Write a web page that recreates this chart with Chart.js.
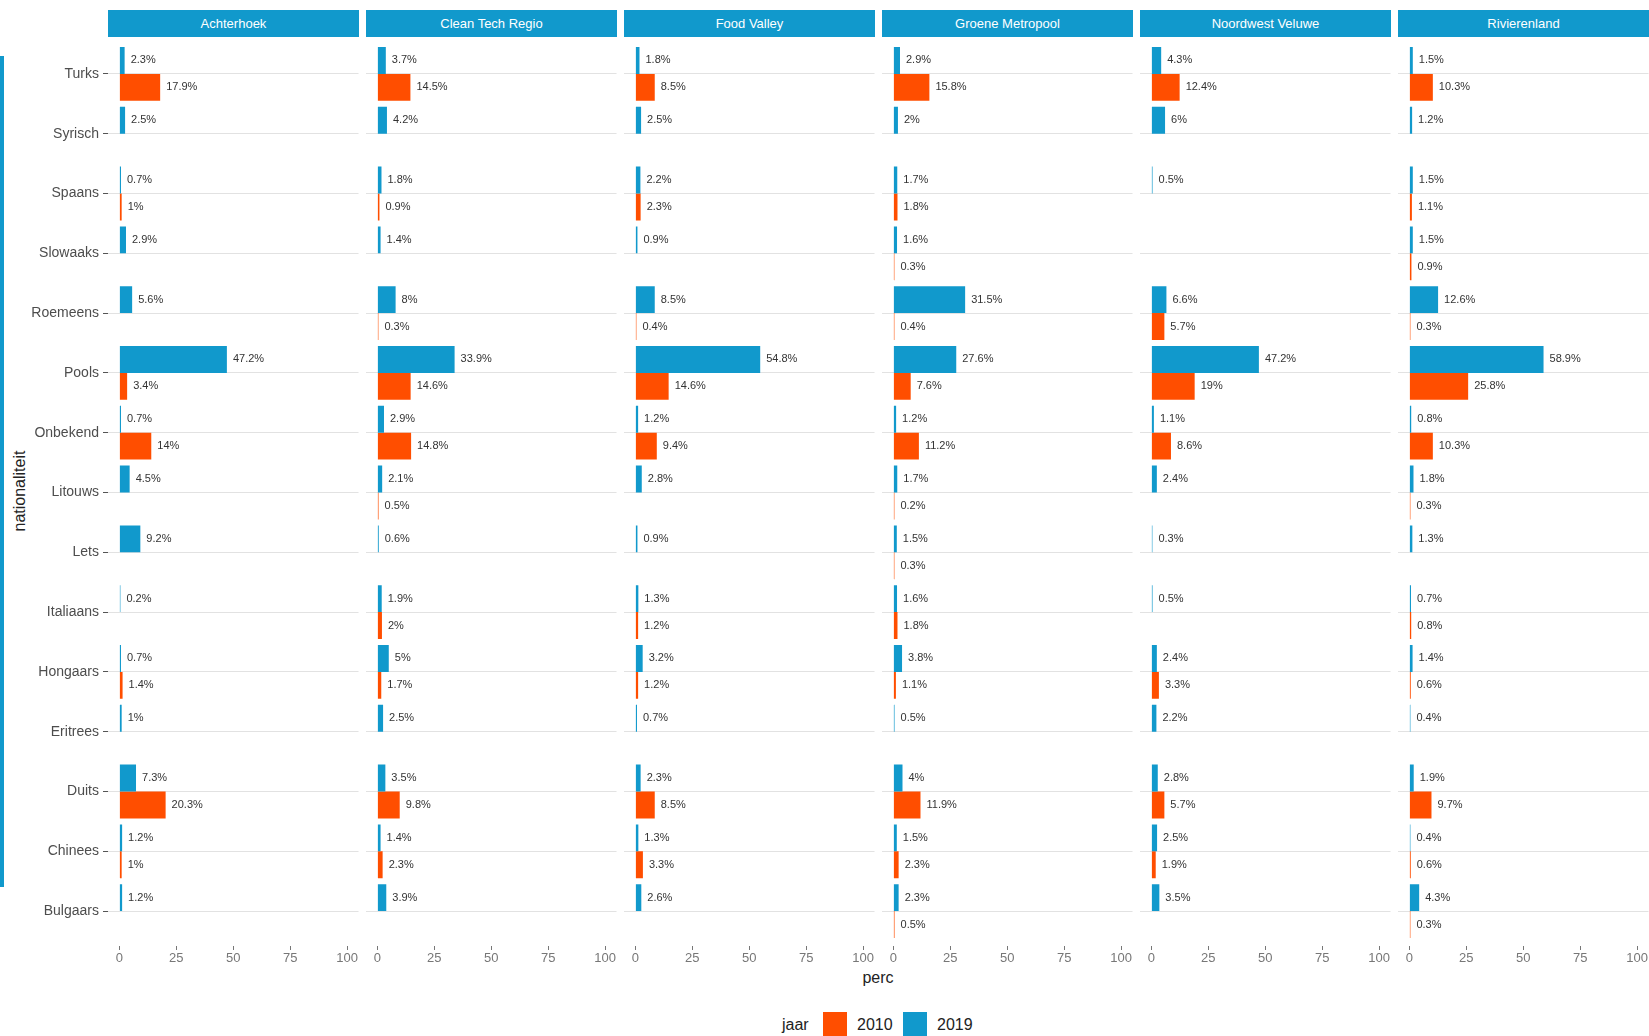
<!DOCTYPE html>
<html>
<head>
<meta charset="utf-8">
<script src="https://cdn.jsdelivr.net/npm/chart.js@4.4.1/dist/chart.umd.min.js"></script>
<style>
    body { margin: 0; width: 1649px; height: 1036px; overflow: hidden; background: #fff; position: relative;
           font-family: "Liberation Sans", Arial, sans-serif; }
    .strip { position: absolute; top: 10px; height: 27px; background: #1199cc; color: #fff;
             font-size: 13px; line-height: 27px; text-align: center; }
    canvas { position: absolute; top: 0; }
    .stripe { position: absolute; left: 0; top: 56px; width: 4px; height: 831px; background: #1199cc; }
    .ytitle { position: absolute; left: 20px; top: 491px; transform: translate(-50%, -50%) rotate(-90deg);
              font-size: 16px; color: #222; white-space: nowrap; }
    .xtitle { position: absolute; left: 878px; top: 978px; transform: translate(-50%, -50%);
              font-size: 16px; color: #222; }
    .leg { position: absolute; top: 1025px; transform: translateY(-50%); font-size: 16px; color: #222; }
    .key { position: absolute; top: 1012px; width: 24px; height: 24px; }
</style>
</head>
<body>
<div class="stripe"></div>
<div class="ytitle">nationaliteit</div>
<div class="xtitle">perc</div>
<div class="leg" style="left:782px">jaar</div>
<div class="key" style="left:823px;background:#ff4e00"></div>
<div class="leg" style="left:857px">2010</div>
<div class="key" style="left:903px;background:#1199cc"></div>
<div class="leg" style="left:937px">2019</div>

<script>
// ------------------------------------------------------------------ data
const categories = ['Turks', 'Syrisch', 'Spaans', 'Slowaaks', 'Roemeens', 'Pools', 'Onbekend', 'Litouws',
    'Lets', 'Italiaans', 'Hongaars', 'Eritrees', 'Duits', 'Chinees', 'Bulgaars'];
const regions = ['Achterhoek', 'Clean Tech Regio', 'Food Valley', 'Groene Metropool', 'Noordwest Veluwe', 'Rivierenland'];
const years = ['2019', '2010'];
const xTicks = [0, 25, 50, 75, 100];

const achterhoek2019 = [2.3, 2.5, 0.7, 2.9, 5.6, 47.2, 0.7, 4.5, 9.2, 0.2, 0.7, 1, 7.3, 1.2, 1.2];
const achterhoek2010 = [17.9, null, 1, null, null, 3.4, 14, null, null, null, 1.4, null, 20.3, 1, null];
const cleanTech2019 = [3.7, 4.2, 1.8, 1.4, 8, 33.9, 2.9, 2.1, 0.6, 1.9, 5, 2.5, 3.5, 1.4, 3.9];
const cleanTech2010 = [14.5, null, 0.9, null, 0.3, 14.6, 14.8, 0.5, null, 2, 1.7, null, 9.8, 2.3, null];
const foodValley2019 = [1.8, 2.5, 2.2, 0.9, 8.5, 54.8, 1.2, 2.8, 0.9, 1.3, 3.2, 0.7, 2.3, 1.3, 2.6];
const foodValley2010 = [8.5, null, 2.3, null, 0.4, 14.6, 9.4, null, null, 1.2, 1.2, null, 8.5, 3.3, null];
const groeneMetropool2019 = [2.9, 2, 1.7, 1.6, 31.5, 27.6, 1.2, 1.7, 1.5, 1.6, 3.8, 0.5, 4, 1.5, 2.3];
const groeneMetropool2010 = [15.8, null, 1.8, 0.3, 0.4, 7.6, 11.2, 0.2, 0.3, 1.8, 1.1, null, 11.9, 2.3, 0.5];
const noordwestVeluwe2019 = [4.3, 6, 0.5, null, 6.6, 47.2, 1.1, 2.4, 0.3, 0.5, 2.4, 2.2, 2.8, 2.5, 3.5];
const noordwestVeluwe2010 = [12.4, null, null, null, 5.7, 19, 8.6, null, null, null, 3.3, null, 5.7, 1.9, null];
const rivierenland2019 = [1.5, 1.2, 1.5, 1.5, 12.6, 58.9, 0.8, 1.8, 1.3, 0.7, 1.4, 0.4, 1.9, 0.4, 4.3];
const rivierenland2010 = [10.3, null, 1.1, 0.9, 0.3, 25.8, 10.3, 0.3, null, 0.8, 0.6, null, 9.7, 0.6, 0.3];

const series2019 = [achterhoek2019, cleanTech2019, foodValley2019, groeneMetropool2019, noordwestVeluwe2019, rivierenland2019];
const series2010 = [achterhoek2010, cleanTech2010, foodValley2010, groeneMetropool2010, noordwestVeluwe2010, rivierenland2010];

// ------------------------------------------------------------------ layout
const BLUE = '#1199cc';
const ORANGE = '#ff4e00';
const panelLefts = [108, 366, 624, 882, 1140, 1398];
const panelWidth = 251;
const yAxisWidth = 108;
const canvasHeight = 1000;

// value labels right of each bar end
const barLabels = {
    id: 'barLabels',
    afterDatasetsDraw(chart) {
        const ctx = chart.ctx;
        ctx.save();
        ctx.font = '11px "Liberation Sans", Arial, sans-serif';
        ctx.fillStyle = '#333';
        ctx.textBaseline = 'middle';
        chart.data.datasets.forEach((ds, i) => {
            chart.getDatasetMeta(i).data.forEach((bar, j) => {
                const v = ds.data[j];
                if (v === null || v === undefined) return;
                ctx.fillText(v + '%', bar.x + 6, bar.y);
            });
        });
        ctx.restore();
    }
};

regions.forEach((name, p) => {
    const first = p === 0;

    const strip = document.createElement('div');
    strip.className = 'strip';
    strip.style.left = panelLefts[p] + 'px';
    strip.style.width = panelWidth + 'px';
    strip.textContent = name;
    document.body.appendChild(strip);

    const cv = document.createElement('canvas');
    const left = first ? 0 : panelLefts[p];
    const width = first ? panelLefts[p] + panelWidth : panelWidth;
    cv.width = width;
    cv.height = canvasHeight;
    cv.style.left = left + 'px';
    document.body.appendChild(cv);

    new Chart(cv.getContext('2d'), {
        type: 'bar',
        data: {
            labels: categories,
            datasets: [
                { label: years[0], data: series2019[p], backgroundColor: BLUE, minBarLength: 1 },
                { label: years[1], data: series2010[p], backgroundColor: ORANGE, minBarLength: 1 }
            ]
        },
        options: {
            indexAxis: 'y',
            responsive: false,
            animation: false,
            events: [],
            categoryPercentage: 0.9,
            barPercentage: 1,
            layout: { autoPadding: false, padding: { top: 44, left: 0, right: 0, bottom: 0 } },
            plugins: { legend: { display: false }, tooltip: { enabled: false } },
            scales: {
                x: {
                    min: -5,
                    max: 105,
                    afterBuildTicks: s => { s.ticks = xTicks.map(v => ({ value: v })); },
                    afterFit: s => { s.height = 59; },
                    border: { display: false },
                    grid: { drawOnChartArea: false, tickLength: 9, tickColor: '#777',
                            tickBorderDash: [0, 5, 4, 20] },
                    ticks: { color: '#777', padding: 1, maxRotation: 0,
                             font: { family: '"Liberation Sans", Arial, sans-serif', size: 13 } }
                },
                y: {
                    afterFit: s => { s.width = first ? yAxisWidth : 0; },
                    border: { display: false },
                    grid: { offset: false, color: '#e2e2e2', lineWidth: 1,
                            drawTicks: first, tickLength: 5, tickColor: '#555' },
                    ticks: { display: first, color: '#4d4d4d', padding: 4,
                             font: { family: '"Liberation Sans", Arial, sans-serif', size: 14 } }
                }
            }
        },
        plugins: [barLabels]
    });
});
</script>
</body>
</html>
